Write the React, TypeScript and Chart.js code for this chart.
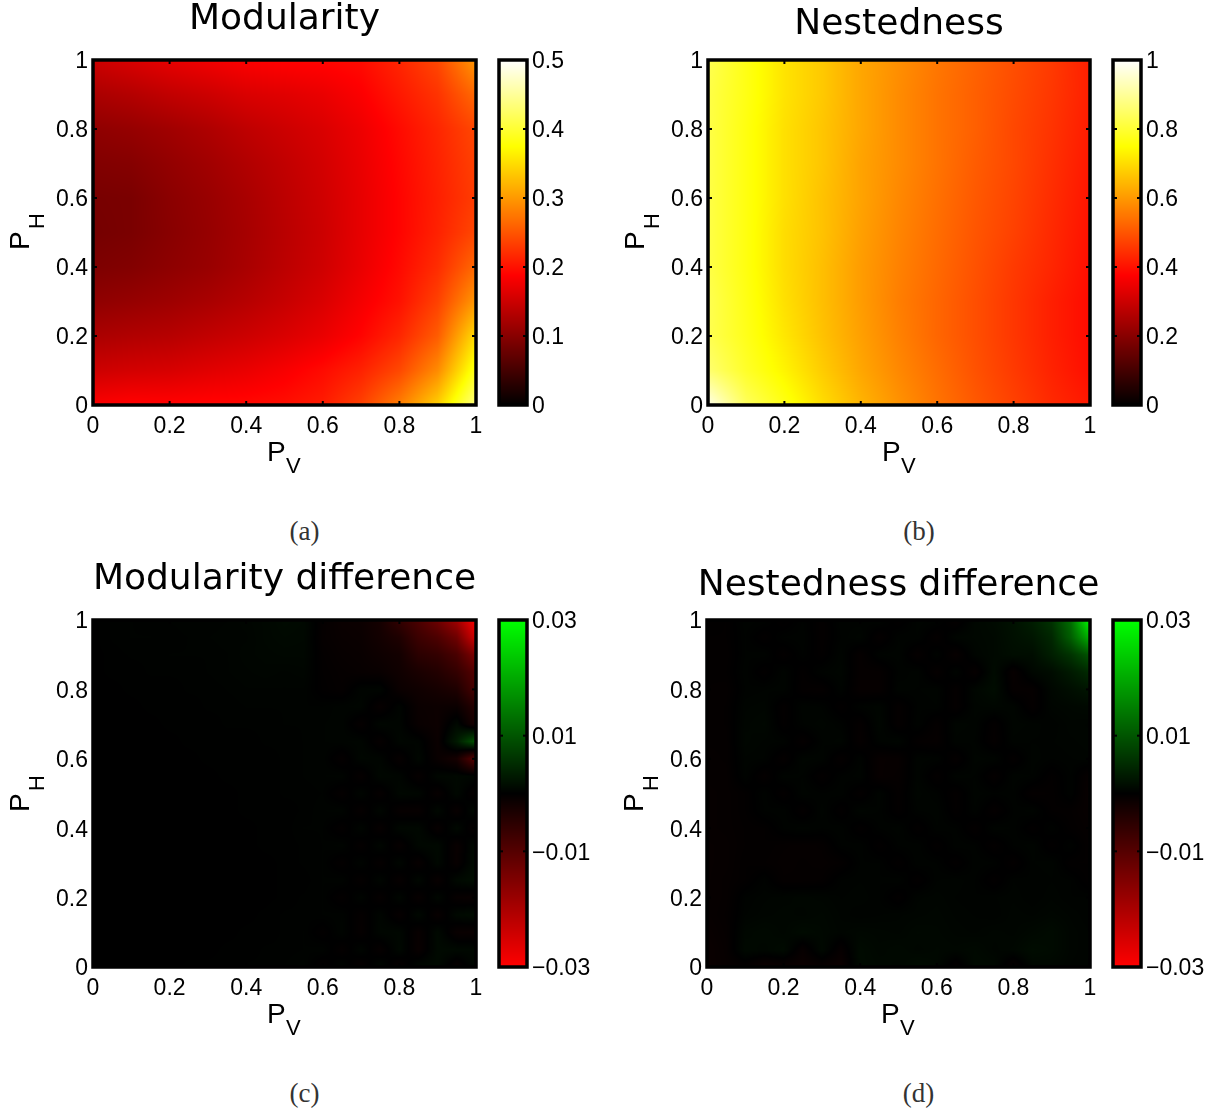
import React, { useEffect, useRef } from "react";
import { Chart, registerables } from "chart.js";

Chart.register(...registerables);

const axisTicks = [0, 0.2, 0.4, 0.6, 0.8, 1];
const coarseAxis = [0, 0.1, 0.2, 0.3, 0.4, 0.5, 0.6, 0.7, 0.8, 0.9, 1];
const fineAxis = [0, 0.05, 0.1, 0.15, 0.2, 0.25, 0.3, 0.35, 0.4, 0.45, 0.5, 0.55, 0.6, 0.65, 0.7, 0.75, 0.8, 0.85, 0.9, 0.95, 1];

const modularityTicks = [0, 0.1, 0.2, 0.3, 0.4, 0.5];
const nestednessTicks = [0, 0.2, 0.4, 0.6, 0.8, 1];
const differenceTicks = [-0.03, -0.01, 0.01, 0.03];

// rows run from P_H = 1 (first) to P_H = 0 (last); columns from P_V = 0 to P_V = 1
const modularity = [
  [.150, .160, .170, .178, .186, .190, .192, .196, .215, .240, .300],
  [.125, .132, .142, .150, .160, .165, .172, .185, .205, .225, .265],
  [.105, .110, .118, .128, .140, .150, .160, .175, .195, .215, .240],
  [.095, .098, .108, .118, .130, .142, .155, .172, .192, .212, .235],
  [.088, .090, .102, .112, .124, .138, .152, .170, .190, .210, .232],
  [.086, .090, .100, .110, .122, .136, .150, .170, .190, .212, .240],
  [.092, .096, .104, .112, .124, .138, .152, .172, .194, .220, .265],
  [.105, .110, .116, .124, .134, .146, .160, .180, .200, .235, .300],
  [.125, .130, .134, .142, .150, .160, .172, .190, .215, .255, .350],
  [.150, .155, .158, .165, .172, .182, .195, .212, .240, .290, .390],
  [.185, .190, .190, .192, .194, .198, .208, .235, .280, .340, .440],
];

const nestedness = [
  [.83, .77, .71, .67, .62, .585, .55, .52, .49, .46, .42],
  [.82, .77, .71, .67, .62, .58, .545, .515, .485, .455, .42],
  [.82, .765, .705, .665, .62, .58, .545, .515, .48, .45, .415],
  [.82, .765, .705, .665, .615, .58, .545, .51, .48, .445, .41],
  [.82, .765, .705, .66, .615, .575, .54, .505, .475, .44, .405],
  [.82, .765, .70, .66, .61, .57, .535, .50, .47, .435, .40],
  [.82, .765, .70, .655, .605, .565, .53, .495, .46, .43, .395],
  [.83, .77, .705, .655, .605, .56, .525, .49, .455, .42, .39],
  [.83, .775, .715, .66, .61, .565, .525, .49, .455, .42, .39],
  [.86, .79, .735, .675, .62, .575, .535, .495, .46, .425, .395],
  [.98, .84, .77, .70, .64, .59, .545, .505, .47, .435, .41],
];

// difference tables are in units of 0.0001
const modularityDifference = [
  [0, 2, 3, 2, 3, 4, 3, 4, 6, 8, 12, 10, -5, -12, -14, -25, -60, -90, -130, -190, -300],
  [0, 2, 3, 3, 2, 3, 4, 5, 5, 8, 10, 9, -6, -10, -12, -22, -35, -70, -90, -130, -250],
  [0, 1, 2, 2, 3, 3, 3, 4, 6, 7, 8, 8, -4, -8, -10, -16, -22, -50, -60, -85, -150],
  [0, 1, 1, 2, 2, 2, 3, 4, 5, 6, 5, 6, -3, -6, -8, -10, -18, -30, -40, -60, -100],
  [0, 0, 1, 1, 1, 2, 2, 3, 4, 4, 4, 4, -2, -5, 5, 6, -12, -18, -25, -35, -85],
  [0, 0, 0, 1, 1, 1, 2, 2, 3, 3, 3, 3, 3, 5, 6, -8, 5, -12, -14, -12, -45],
  [0, 0, 0, 0, 1, 1, 1, 2, 2, 2, 3, 3, 4, 5, -6, 7, 6, -10, -14, 10, -30],
  [0, 0, 0, 0, 0, 1, 1, 1, 1, 2, 2, 3, 4, 5, 6, -6, 7, 5, -12, 30, 100],
  [0, 0, 0, 0, 0, 0, 1, 1, 1, 1, 2, 3, 4, -5, 7, 6, -7, 8, -10, -25, -110],
  [0, 0, 0, 0, 0, 0, 0, 1, 1, 1, 2, 3, 4, 5, -6, 8, 6, -7, 8, 9, 7],
  [0, 0, 0, 0, 0, 0, 0, 0, 1, 1, 2, 2, 3, -5, 6, -6, 8, 7, -8, 9, -9],
  [0, 0, 0, 0, 0, 0, 0, 0, 1, 1, 1, 2, 4, 5, -6, 7, -7, -8, 9, -9, 12],
  [0, 0, 0, 0, 0, 0, 0, 0, 0, 1, 1, 3, 3, -4, 6, -7, 8, 9, -8, 10, -10],
  [0, 0, 0, 0, 0, 0, 0, 0, 0, 1, 1, 2, 3, 5, -5, 7, -7, 8, 10, -10, 12],
  [0, 0, 0, 0, 0, 0, 0, 0, 0, 0, 1, 2, 3, -4, 5, -6, 7, -8, 9, -9, 14],
  [0, 0, 0, 0, 0, 0, 0, 0, 0, 0, 1, 1, 3, 4, -5, 6, -7, 8, -9, 10, 16],
  [0, 0, 0, 0, 0, 0, 0, 0, 0, 0, 1, 2, 3, -4, 5, -6, 7, -8, 8, -8, -10],
  [0, 0, 0, 0, 0, 0, 0, 0, 0, 1, 2, 2, 3, 4, -5, 6, -7, 9, -9, 10, 14],
  [0, 0, 0, 0, 0, 0, 0, 0, 1, 1, 2, 3, -3, 5, -6, 7, 8, -9, 10, -10, -12],
  [0, 0, 0, 0, 0, 0, 0, 1, 1, 2, 2, 3, 4, -5, 6, -7, 9, -10, 11, 10, 9],
  [0, 0, 0, 0, 0, 1, 1, 1, 2, 2, 3, 5, -5, 6, -8, 9, -10, 10, 11, -10, 10],
];

const nestednessDifference = [
  [-2, -3, 4, 3, -3, 3, -4, 4, 3, 5, -3, 5, 4, -6, 8, 12, 20, 35, 60, 130, 300],
  [-3, -3, 3, -3, 3, 4, -4, 3, 6, -5, 4, 4, -5, 6, 8, 10, 18, 25, 45, 110, 210],
  [-3, -4, 3, 4, -4, 3, -3, 5, -6, 4, 5, -6, 4, -8, 6, 10, 15, 15, 35, 60, 100],
  [-4, -3, 4, -3, 5, -3, 4, 6, -6, -6, 3, 5, -6, 5, -7, 12, -8, 8, 14, 30, 50],
  [-4, -5, 3, 4, 5, -4, -5, 4, -7, -7, 5, 4, 5, -5, 7, 14, -6, -6, 8, 16, 25],
  [-5, -4, 5, 6, -4, 5, 4, -3, 4, 6, -5, 3, 4, -5, 6, 7, 6, -5, 6, 8, 10],
  [-5, -4, 6, 8, -3, 4, 6, 3, -5, 7, -5, 4, -5, 6, 5, -4, 6, 5, 3, 6, 5],
  [-5, -5, 7, 5, 4, -5, 4, 6, -6, 4, 6, -4, -6, 5, 4, -5, 5, 4, 4, 5, 6],
  [-6, -5, 5, 4, -5, 6, 5, -5, 4, -8, -7, 5, 4, -5, 6, 5, -4, 5, 3, 4, 5],
  [-6, -6, 4, -5, 5, 4, -4, 3, 5, -8, -6, 5, -4, 5, 4, -5, 5, 4, -3, 3, -8],
  [-7, -6, -3, 4, -4, 5, 3, 4, -4, 5, -4, 6, 3, -4, 5, 3, 4, -5, -4, 3, -10],
  [-7, -6, -3, 3, 4, -4, 5, -3, 6, 4, -3, 4, 5, -3, 4, -5, 3, 5, -3, -4, -8],
  [-7, -6, -4, -3, 3, 5, 3, 4, -3, 3, 5, -3, 4, 3, -4, 5, 4, -3, 3, -3, -6],
  [-8, -7, -4, -3, -5, -6, -5, 3, 4, -3, 3, 4, -3, 4, 3, -4, 3, 5, -3, 3, -5],
  [-8, -7, -3, -4, -6, -5, -6, -4, 3, 3, -3, 4, 3, -3, 4, 3, -4, 4, 5, -3, -3],
  [-8, -6, -3, 3, -5, -5, -4, 3, 4, 3, 4, -3, 4, 5, 3, -3, 4, 3, 4, 3, -3],
  [-8, -6, 3, 5, 6, 7, 6, 4, 5, 3, -3, 5, 6, 4, 3, 4, 5, 3, 5, 3, 3],
  [-8, -5, 4, 6, 7, 6, 8, 5, 3, 4, 5, 6, 7, 5, 4, 3, 6, 5, 7, 5, 3],
  [-10, -6, 8, 10, 7, 12, 9, 6, 8, 7, 6, 9, 8, 6, 5, 7, 6, 9, 12, 6, 4],
  [-12, -7, 10, 8, 12, -8, 10, -7, 12, 8, 10, 7, 9, 8, 10, 6, 8, 14, 12, 6, 4],
  [-12, -8, -6, -15, -12, -14, -10, -14, 12, 10, 8, 14, 10, -6, 12, 10, -10, 8, 8, 5, 4],
];

const clamp = (v: number) => Math.max(0, Math.min(1, v));

function hot(t: number): number[] {
  return [clamp(t / 0.375) * 255, clamp((t - 0.375) / 0.375) * 255, clamp((t - 0.75) / 0.25) * 255];
}
function redGreen(t: number): number[] {
  const u = clamp(Math.abs(t));
  return t < 0 ? [u * 255, 0, 0] : [0, u * 255, 0];
}

type PanelCfg = {
  title: string; caption: string; values: number[][]; unit: number;
  xs: number[]; ys: number[]; L: number; R: number; T: number; B: number; titleY: number;
  barLeft: number; cbTicks: number[]; cbMin: number; cbMax: number; diverging: boolean;
};

const panels: PanelCfg[] = [
  { title: "Modularity", caption: "(a)", values: modularity, unit: 1, xs: coarseAxis, ys: coarseAxis, L: 93, R: 476, T: 60, B: 405, titleY: 20, barLeft: 499, cbTicks: modularityTicks, cbMin: 0, cbMax: 0.5, diverging: false },
  { title: "Nestedness", caption: "(b)", values: nestedness, unit: 1, xs: coarseAxis, ys: coarseAxis, L: 708, R: 1090, T: 60, B: 405, titleY: 25, barLeft: 1113, cbTicks: nestednessTicks, cbMin: 0, cbMax: 1, diverging: false },
  { title: "Modularity difference", caption: "(c)", values: modularityDifference, unit: 1e-4, xs: fineAxis, ys: fineAxis, L: 93, R: 476, T: 620, B: 967, titleY: 580, barLeft: 499, cbTicks: differenceTicks, cbMin: -0.03, cbMax: 0.03, diverging: true },
  { title: "Nestedness difference", caption: "(d)", values: nestednessDifference, unit: 1e-4, xs: fineAxis, ys: fineAxis, L: 707, R: 1090, T: 620, B: 967, titleY: 586, barLeft: 1113, cbTicks: differenceTicks, cbMin: -0.03, cbMax: 0.03, diverging: true },
];

const SANS = '"Liberation Sans", Arial, sans-serif';
const fmt = (v: number) => {
  const s = String(Math.round(v * 1000) / 1000);
  return s.replace("-", "\u2212");
};

function colorFor(p: PanelCfg, v: number) {
  return p.diverging ? redGreen(v / p.cbMax) : hot(v / p.cbMax);
}

function drawFrame(chart: any, xt: number[] | null, yt: number[], tickLen: number) {
  const { ctx, chartArea: a, scales } = chart;
  ctx.save();
  ctx.strokeStyle = "#000";
  ctx.fillStyle = "#000";
  yt.forEach((v) => {
    const y = scales.y.getPixelForValue(v);
    ctx.fillRect(a.left, y - 1, tickLen + 1, 2);
    ctx.fillRect(a.right - tickLen - 1, y - 1, tickLen + 1, 2);
  });
  (xt || []).forEach((v) => {
    const x = scales.x.getPixelForValue(v);
    ctx.fillRect(x - 1, a.top, 2, tickLen + 1);
    ctx.fillRect(x - 1, a.bottom - tickLen - 1, 2, tickLen + 1);
  });
  ctx.lineWidth = 3.5;
  ctx.strokeRect(a.left, a.top, a.right - a.left, a.bottom - a.top);
  ctx.restore();
}

function makeHeatmap(canvas: HTMLCanvasElement, p: PanelCfg, padBottomTitle: number) {
  const points: any[] = [];
  p.values.forEach((row, r) =>
    row.forEach((v, c) => points.push({ x: p.xs[c], y: p.ys[p.ys.length - 1 - r], v: v * p.unit }))
  );
  const nx = p.xs.length;
  const ny = p.ys.length;
  const heat = {
    id: "heat",
    beforeDatasetsDraw(chart: any) {
      const { ctx, chartArea: a, scales } = chart;
      const w = Math.round(a.right - a.left);
      const h = Math.round(a.bottom - a.top);
      const off = document.createElement("canvas");
      off.width = w;
      off.height = h;
      const octx = off.getContext("2d")!;
      const img = octx.createImageData(w, h);
      const pts = chart.data.datasets[0].data;
      const at = (ci: number, ri: number) => pts[ri * nx + ci].v;
      for (let j = 0; j < h; j++) {
        const yv = scales.y.getValueForPixel(a.top + j + 0.5);
        const fy = clamp(1 - yv) * (ny - 1);
        const r0 = Math.min(ny - 2, Math.floor(fy));
        const dy = fy - r0;
        for (let i = 0; i < w; i++) {
          const xv = scales.x.getValueForPixel(a.left + i + 0.5);
          const fx = clamp(xv) * (nx - 1);
          const c0 = Math.min(nx - 2, Math.floor(fx));
          const dx = fx - c0;
          const v =
            at(c0, r0) * (1 - dx) * (1 - dy) + at(c0 + 1, r0) * dx * (1 - dy) +
            at(c0, r0 + 1) * (1 - dx) * dy + at(c0 + 1, r0 + 1) * dx * dy;
          const col = colorFor(p, v);
          const k = (j * w + i) * 4;
          img.data[k] = col[0];
          img.data[k + 1] = col[1];
          img.data[k + 2] = col[2];
          img.data[k + 3] = 255;
        }
      }
      octx.putImageData(img, 0, 0);
      ctx.drawImage(off, a.left, a.top, a.right - a.left, a.bottom - a.top);
    },
    afterDraw(chart: any) {
      drawFrame(chart, axisTicks, axisTicks, 3);
      const { ctx, chartArea: a } = chart;
      ctx.save();
      ctx.fillStyle = "#000";
      ctx.textAlign = "left";
      ctx.textBaseline = "alphabetic";
      ctx.font = `28px ${SANS}`;
      ctx.fillText("P", a.left + 174, a.bottom + 56);
      ctx.font = `22px ${SANS}`;
      ctx.fillText("V", a.left + 193, a.bottom + 68);
      ctx.translate(a.left - 64, a.bottom - 155);
      ctx.rotate(-Math.PI / 2);
      ctx.font = `28px ${SANS}`;
      ctx.fillText("P", 0, 0);
      ctx.font = `22px ${SANS}`;
      ctx.fillText("H", 21, 15);
      ctx.restore();
    },
  };
  return new Chart(canvas, {
    type: "scatter",
    data: { datasets: [{ data: points, pointRadius: 0, showLine: false }] },
    options: {
      responsive: false,
      animation: false,
      events: [],
      plugins: {
        legend: { display: false },
        tooltip: { enabled: false },
        title: {
          display: true,
          text: p.title,
          color: "#000",
          font: { family: '"DejaVu Sans", sans-serif', size: 36, weight: "normal", lineHeight: 42 / 36 },
          padding: { top: 0, bottom: padBottomTitle },
        },
      },
      scales: {
        x: {
          type: "linear", min: 0, max: 1,
          grid: { display: false, drawTicks: false },
          border: { display: false },
          afterBuildTicks: (s: any) => { s.ticks = axisTicks.map((value) => ({ value })); },
          afterFit: (s: any) => { s.height = 75; },
          ticks: { color: "#000", autoSkip: false, maxRotation: 0, padding: 8, font: { family: SANS, size: 23 }, callback: (v: any) => fmt(Number(v)) },
        },
        y: {
          type: "linear", min: 0, max: 1,
          grid: { display: false, drawTicks: false },
          border: { display: false },
          afterBuildTicks: (s: any) => { s.ticks = axisTicks.map((value) => ({ value })); },
          afterFit: (s: any) => { s.width = 93; },
          ticks: { color: "#000", autoSkip: false, padding: 5, labelOffset: 2, font: { family: SANS, size: 23 }, callback: (v: any) => fmt(Number(v)) },
        },
        balance: {
          type: "linear", position: "right", min: 0, max: 1,
          grid: { display: false, drawTicks: false },
          border: { display: false },
          ticks: { display: false },
          afterFit: (s: any) => { s.width = 93; },
        },
      },
    } as any,
    plugins: [heat],
  });
}

function makeColorbar(canvas: HTMLCanvasElement, p: PanelCfg) {
  const bar = {
    id: "bar",
    beforeDatasetsDraw(chart: any) {
      const { ctx, chartArea: a, scales } = chart;
      for (let y = Math.floor(a.top); y < a.bottom; y++) {
        const c = colorFor(p, scales.y.getValueForPixel(y + 0.5));
        ctx.fillStyle = `rgb(${c[0]},${c[1]},${c[2]})`;
        ctx.fillRect(a.left, y, a.right - a.left, 1);
      }
    },
    afterDraw(chart: any) {
      drawFrame(chart, null, p.cbTicks, 3);
    },
  };
  return new Chart(canvas, {
    type: "scatter",
    data: { datasets: [{ data: p.cbTicks.map((v) => ({ x: 0, y: v })), pointRadius: 0, showLine: false }] },
    options: {
      responsive: false,
      animation: false,
      events: [],
      layout: { padding: { left: 10, top: 20, bottom: 20, right: 0 } },
      plugins: { legend: { display: false }, tooltip: { enabled: false } },
      scales: {
        x: { display: false, min: 0, max: 1 },
        y: {
          type: "linear", position: "right", min: p.cbMin, max: p.cbMax,
          grid: { display: false, drawTicks: false },
          border: { display: false },
          afterBuildTicks: (s: any) => { s.ticks = p.cbTicks.map((value) => ({ value })); },
          afterFit: (s: any) => { s.width = 72; },
          ticks: { color: "#000", autoSkip: false, padding: 5, labelOffset: 2, font: { family: SANS, size: 23 }, callback: (v: any) => fmt(Number(v)) },
        },
      },
    } as any,
    plugins: [bar],
  });
}

function Panel({ p }: { p: PanelCfg }) {
  const heatRef = useRef<HTMLCanvasElement>(null);
  const barRef = useRef<HTMLCanvasElement>(null);
  const titleBox = 42;
  const top = p.titleY - titleBox / 2;
  const padBottom = p.T - top - titleBox;
  const width = p.R - p.L + 186;
  const height = titleBox + padBottom + (p.B - p.T) + 75;
  const barW = 10 + 28 + 72;
  const barH = p.B - p.T + 40;
  useEffect(() => {
    const a = makeHeatmap(heatRef.current!, p, padBottom);
    const b = makeColorbar(barRef.current!, p);
    return () => { a.destroy(); b.destroy(); };
  }, []);
  return (
    <>
      <canvas ref={heatRef} width={width} height={height} style={{ position: "absolute", left: p.L - 93, top, width, height }} />
      <canvas ref={barRef} width={barW} height={barH} style={{ position: "absolute", left: p.barLeft - 10, top: p.T - 20, width: barW, height: barH }} />
      <div style={{ position: "absolute", left: (p.L + p.R) / 2 + 20, top: p.B + 111, transform: "translateX(-50%)", font: '27px "Liberation Serif", serif', color: "#333" }}>{p.caption}</div>
    </>
  );
}

export default function App() {
  return (
    <div style={{ position: "absolute", left: 0, top: 0, width: 1214, height: 1111, overflow: "hidden", background: "#fff" }}>
      {panels.map((p) => <Panel key={p.caption} p={p} />)}
    </div>
  );
}
